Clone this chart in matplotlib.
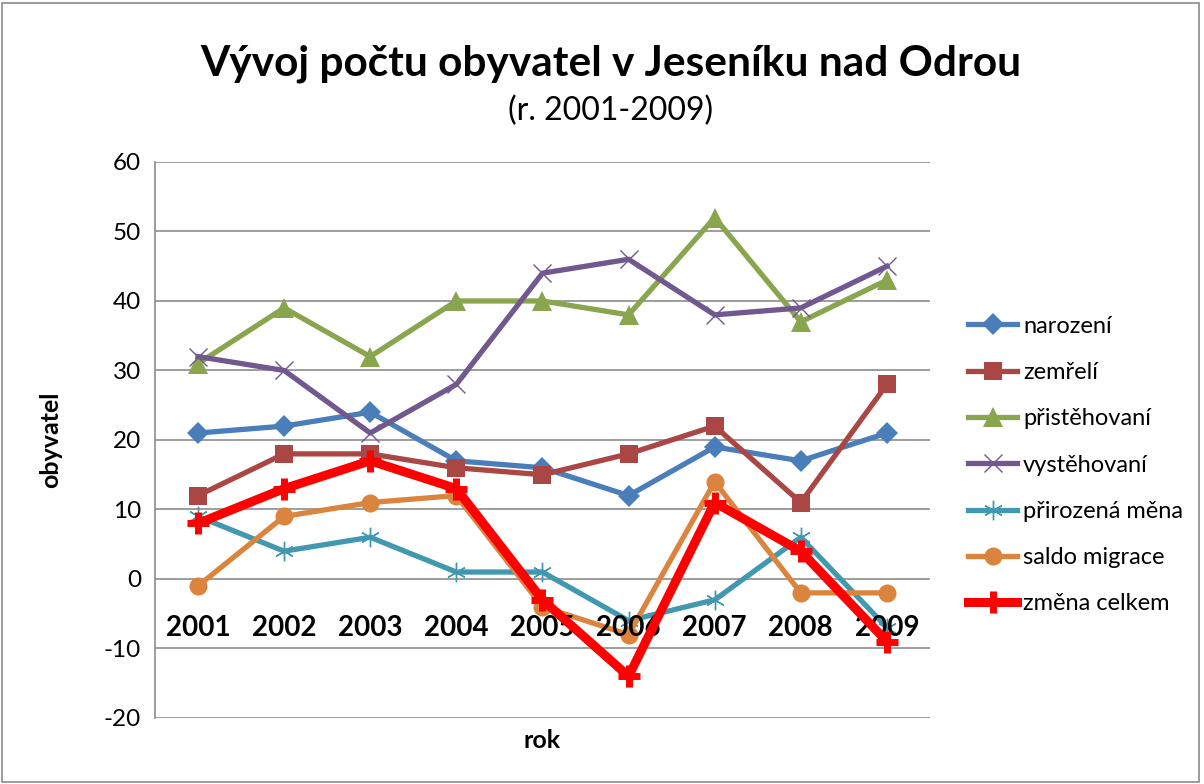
import matplotlib
matplotlib.use("Agg")
import matplotlib.pyplot as plt
from matplotlib.patches import Rectangle

plt.rcParams["font.family"] = ["Lato", "Open Sans", "DejaVu Sans"]
plt.rcParams["axes.unicode_minus"] = False

years = ["2001", "2002", "2003", "2004", "2005", "2006", "2007", "2008", "2009"]
narozeni = [21, 22, 24, 17, 16, 12, 19, 17, 21]
zemreli = [12, 18, 18, 16, 15, 18, 22, 11, 28]
pristehovani = [31, 39, 32, 40, 40, 38, 52, 37, 43]
vystehovani = [32, 30, 21, 28, 44, 46, 38, 39, 45]
prirozena_mena = [9, 4, 6, 1, 1, -6, -3, 6, -7]
saldo_migrace = [-1, 9, 11, 12, -4, -8, 14, -2, -2]
zmena_celkem = [8, 13, 17, 13, -3, -14, 11, 4, -9]

series = [
    ("narození", narozeni, "#4A7EBB", dict(marker="D", ms=11, mew=0)),
    ("zemřelí", zemreli, "#AA4643", dict(marker="s", ms=13, mew=0)),
    ("přistěhovaní", pristehovani, "#89A54E", dict(marker="^", ms=14, mew=0)),
    ("vystěhovaní", vystehovani, "#71588F", dict(marker="x", ms=13, mew=1.0)),
    ("přirozená měna", prirozena_mena, "#4198AF", dict(marker=(6, 2, 0), ms=14, mew=1.0)),
    ("saldo migrace", saldo_migrace, "#DB843D", dict(marker="o", ms=13, mew=0)),
    ("změna celkem", zmena_celkem, "#FF0000", dict(marker="+", ms=16, mew=5)),
]

fig = plt.figure(figsize=(12.04, 7.84), dpi=100)
fig.patches.append(Rectangle((0.002, 0.002), 0.994, 0.994, transform=fig.transFigure,
                             fill=False, edgecolor="#8c8c8c", linewidth=1.2))
ax = fig.add_axes([0.1287, 0.0842, 0.6437, 0.7092])

x = list(range(1, len(years) + 1))
for name, vals, color, mk in series:
    lw = 6.5 if name == "změna celkem" else 3.8
    ax.plot(x, vals, color=color, linewidth=lw, label=name,
            markerfacecolor=color, markeredgecolor=color, zorder=5 if lw > 4 else 3, **mk)

ax.set_xlim(0.5, 9.5)
ax.set_ylim(-20, 60)
ax.set_yticks(range(-20, 61, 10))
ax.yaxis.grid(True, color="#8c8c8c", linewidth=1.2)
ax.set_axisbelow(True)
ax.set_xticks([])
for s in ["top", "right", "bottom"]:
    ax.spines[s].set_visible(False)
ax.spines["left"].set_color("#8c8c8c")
ax.spines["left"].set_linewidth(1.2)
ax.tick_params(axis="y", length=0, labelsize=17.5, pad=10)

for xi, yr in zip(x, years):
    ax.text(xi, -7, yr, ha="center", va="center", fontsize=20, fontweight="bold", zorder=4)

ax.set_ylabel("obyvatel", fontsize=18, fontweight="bold", labelpad=30)
ax.set_xlabel("rok", fontsize=18, fontweight="bold", labelpad=8)

fig.text(0.507, 0.919, "Vývoj počtu obyvatel v Jeseníku nad Odrou",
         ha="center", va="center", fontsize=30.5, fontweight="bold")
fig.text(0.507, 0.859, "(r. 2001-2009)", ha="center", va="center", fontsize=23)

ax.legend(loc="center left", bbox_to_anchor=(1.0, 0.455), frameon=False, fontsize=17,
          labelspacing=1.07, handlelength=2.1, handletextpad=0.25, borderaxespad=1.2)

fig.savefig("out.png", dpi=100)
